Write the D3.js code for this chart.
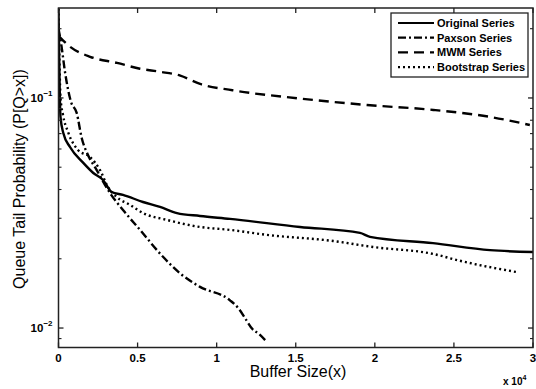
<!DOCTYPE html>
<html><head><meta charset="utf-8">
<script src="https://cdn.jsdelivr.net/npm/d3@7"></script>
<style>body{margin:0;background:#fff}svg{display:block}</style>
</head><body>
<script>
const seriesNames = ["Original Series","Paxson Series","MWM Series","Bootstrap Series"];
const original = [[0,0.245],[126,0.0827],[303,0.0704],[727,0.0612],[1568,0.0522],[2200,0.0472],[2813,0.0440],[3363,0.0390],[4078,0.0379],[5342,0.0353],[6417,0.0336],[7491,0.0316],[8945,0.0307],[10842,0.0298],[15268,0.0275],[19061,0.0259],[19694,0.0249],[23677,0.0234],[27281,0.0218],[30000,0.0214]];
const paxson = [[0,0.20],[190,0.168],[411,0.1297],[790,0.0961],[1150,0.0861],[1467,0.0670],[1865,0.0565],[2415,0.0486],[3256,0.0386],[4078,0.0326],[5153,0.0267],[6607,0.0204],[7682,0.0173],[8946,0.0151],[10842,0.0132],[11393,0.01214],[11823,0.01096],[12259,0.0099],[12676,0.00942],[13119,0.00878]];
const mwm = [[0,0.186],[730,0.167],[2000,0.151],[3700,0.142],[5150,0.134],[6400,0.130],[7700,0.125],[8950,0.115],[11000,0.108],[15100,0.0997],[19500,0.0932],[23700,0.0887],[27300,0.0827],[29800,0.0763]];
const bootstrap = [[0,0.245],[130,0.1],[284,0.0844],[600,0.0712],[1233,0.0594],[1992,0.0554],[2624,0.0486],[3130,0.0410],[3680,0.0371],[4520,0.0343],[5342,0.0316],[6860,0.0295],[8945,0.0275],[10842,0.0267],[13182,0.0254],[17355,0.0239],[19884,0.0225],[23677,0.0210],[25384,0.0196],[28988,0.0175]];
const xTicks = [0,5000,10000,15000,20000,25000,30000];
const xTickLabels = ["0","0.5","1","1.5","2","2.5","3"];
const yMajor = [0.01,0.1];
const yMinor = [0.009,0.02,0.03,0.04,0.05,0.06,0.07,0.08,0.09,0.2];

const W=536,H=389, L=58.5, R=533, T=8, B=347.5;
const svg=d3.select("body").append("svg").attr("width",W).attr("height",H);
const x=d3.scaleLinear().domain([0,30000]).range([L,R]);
const y=d3.scaleLog().domain([0.00823,0.246]).range([B,T]);
const font="'Liberation Sans', Arial, Helvetica, sans-serif";

svg.append("clipPath").attr("id","c").append("rect").attr("x",L).attr("y",T).attr("width",R-L).attr("height",B-T);

const styles=[
 {d:original,dash:null},
 {d:paxson,dash:"8,3,2,3"},
 {d:mwm,dash:"10,6"},
 {d:bootstrap,dash:"2,3"}
];
const line=d3.line().x(p=>x(p[0])).y(p=>y(p[1])).curve(d3.curveMonotoneX);
const g=svg.append("g").attr("clip-path","url(#c)");
styles.forEach(s=>{
  g.append("path").attr("d",line(s.d)).attr("fill","none").attr("stroke","#000")
   .attr("stroke-width",2.4).attr("stroke-dasharray",s.dash);
});

svg.append("rect").attr("x",L).attr("y",T).attr("width",R-L).attr("height",B-T)
  .attr("fill","none").attr("stroke","#222").attr("stroke-width",1.5);

const ax=svg.append("g");
xTicks.forEach((v,i)=>{
  ax.append("line").attr("x1",x(v)).attr("x2",x(v)).attr("y1",B).attr("y2",B-5).attr("stroke","#222").attr("stroke-width",1.3);
  ax.append("line").attr("x1",x(v)).attr("x2",x(v)).attr("y1",T).attr("y2",T+5).attr("stroke","#222").attr("stroke-width",1.3);
  ax.append("text").attr("x",x(v)).attr("y",362).attr("text-anchor","middle")
    .attr("font-family",font).attr("font-size",11.5).attr("font-weight","bold").text(xTickLabels[i]);
});
yMajor.forEach(v=>{
  [[L,L+5],[R,R-5]].forEach(p=>ax.append("line").attr("x1",p[0]).attr("x2",p[1]).attr("y1",y(v)).attr("y2",y(v)).attr("stroke","#222").attr("stroke-width",1.3));
  const t=ax.append("text").attr("x",L-6).attr("y",y(v)+4).attr("text-anchor","end")
    .attr("font-family",font).attr("font-size",11.5).attr("font-weight","bold");
  t.append("tspan").text("10");
  t.append("tspan").attr("dy",-6).attr("font-size",8).text(String(Math.round(Math.log10(v))).replace("-","\u2212"));
});
yMinor.forEach(v=>{
  [[L,L+3],[R,R-3]].forEach(p=>ax.append("line").attr("x1",p[0]).attr("x2",p[1]).attr("y1",y(v)).attr("y2",y(v)).attr("stroke","#222").attr("stroke-width",1.1));
});

svg.append("text").attr("x",298).attr("y",377).attr("text-anchor","middle")
  .attr("font-family",font).attr("font-size",16).text("Buffer Size(x)");
svg.append("text").attr("transform","translate(25,179) rotate(-90)").attr("text-anchor","middle")
  .attr("font-family",font).attr("font-size",16).text("Queue Tail Probability (P[Q>x])");
const ex=svg.append("text").attr("x",503).attr("y",385).attr("font-family",font).attr("font-size",10).attr("font-weight","bold");
ex.append("tspan").text("x 10");
ex.append("tspan").attr("dy",-5).attr("font-size",7).text("4");

const lg=svg.append("g");
lg.append("rect").attr("x",391).attr("y",13).attr("width",137).attr("height",64).attr("fill","#fff").attr("stroke","#222").attr("stroke-width",1.3);
styles.forEach((s,i)=>{
  const yy=23+i*14.7;
  lg.append("line").attr("x1",398).attr("x2",434).attr("y1",yy).attr("y2",yy).attr("stroke","#000").attr("stroke-width",2.2).attr("stroke-dasharray",s.dash);
  lg.append("text").attr("x",437).attr("y",yy+4).attr("font-family",font).attr("font-size",11).attr("font-weight","bold").text(seriesNames[i]);
});
</script>
</body></html>
